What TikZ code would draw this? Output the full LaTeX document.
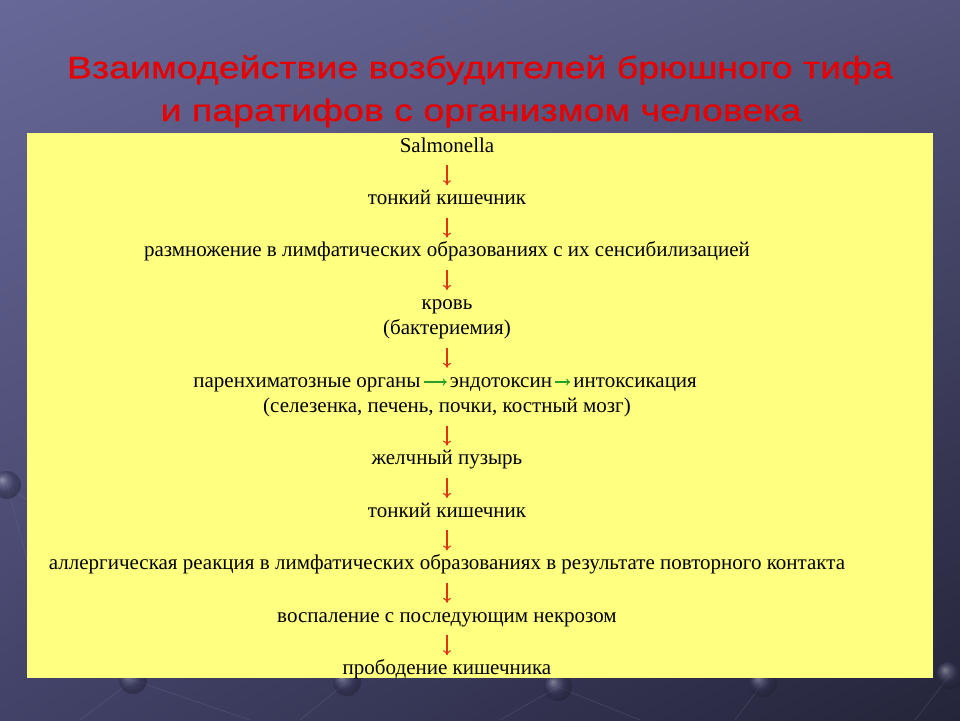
\documentclass[tikz,border=0pt]{standalone}
\usepackage{fontspec}
\setmainfont{Liberation Serif}
\newfontfamily\titlefont[FakeBold=0.6]{Liberation Sans}
\usetikzlibrary{arrows.meta,positioning,shadings}
\definecolor{slidetl}{RGB}{104,104,152}
\definecolor{slidetr}{RGB}{84,84,124}
\definecolor{slidebl}{RGB}{66,66,104}
\definecolor{slidebr}{RGB}{36,36,58}
\definecolor{boxyellow}{RGB}{255,255,128}
\definecolor{titlered}{RGB}{230,0,0}
\definecolor{downred}{RGB}{222,52,20}
\definecolor{sidegreen}{RGB}{40,160,40}
\definecolor{ballblue}{RGB}{70,70,112}

\begin{document}
\begin{tikzpicture}[x=1pt,y=-1pt,node distance=32pt,
 txt/.style={inner sep=0pt,text height=15pt,text depth=5pt,font=\fontsize{21}{25}\selectfont},
 head/.style={inner sep=0pt,text=titlered,font=\titlefont\fontsize{31}{36}\selectfont},
 down/.style={draw=downred,line width=1.1pt,-{To[length=5pt,width=8pt]},shorten <=8pt,shorten >=4pt},
 side/.style={draw=sidegreen,line width=1.1pt,-{To[length=4pt,width=7pt]},shorten <=3pt,shorten >=3pt},
 ball/.style={ball color=ballblue,opacity=0.45},
 wire/.style={draw=ballblue!70!white,opacity=0.3,line width=0.6pt}]
 \useasboundingbox (0,0) rectangle (960,720);
 \shade[upper left=slidetl,upper right=slidetr,lower left=slidebl,lower right=slidebr] (0,0) rectangle (960,720);

 \draw[wire] (7,485) -- (27,500) (7,485) -- (27,560) (133,680) -- (80,720) (133,680) -- (250,720)
 (347,682) -- (300,720) (558,687) -- (500,720) (558,687) -- (640,720)
 (763,683) -- (735,720) (950,675) -- (915,720);
 \foreach \bx/\by in {7/485,133/680,347/682,558/687,763/683,950/675}
 \shade[ball] (\bx,\by) circle (14pt);

 \fill[boxyellow] (27,133) rectangle (933,678);

 \node[head] (title1) at (480,70) {\scalebox{1.21}[1]{Взаимодействие возбудителей брюшного тифа}};
 \node[head] (title2) at (481,113) {\scalebox{1.21}[1]{и паратифов с организмом человека}};

 \node[txt] (salm) at (447,147) {Salmonella};
 \node[txt] (tonk) [below=of salm] {тонкий кишечник};
 \node[txt] (razm) [below=of tonk] {размножение в лимфатических образованиях с их сенсибилизацией};
 \node[txt] (krov) [below=of razm] {кровь};
 \node[txt] (bakt) [below=5pt of krov] {(бактериемия)};
 \node[txt] (endo) [below=of bakt,xshift=54pt] {эндотоксин};
 \node[txt] (paren) [left=29pt of endo] {паренхиматозные органы};
 \node[txt] (intox) [right=21pt of endo] {интоксикация};
 \node[txt] (sel) [below=5pt of endo,xshift=-54pt] {(селезенка, печень, почки, костный мозг)};
 \node[txt] (zhel) [below=of sel] {желчный пузырь};
 \node[txt] (tonkb) [below=of zhel] {тонкий кишечник};
 \node[txt] (allerg) [below=of tonkb] {аллергическая реакция в лимфатических образованиях в результате повторного контакта};
 \node[txt] (vosp) [below=of allerg] {воспаление с последующим некрозом};
 \node[txt] (probod) [below=of vosp] {прободение кишечника};

 \draw[down] (salm.south) -- (tonk.north);
 \draw[down] (tonk.south) -- (razm.north);
 \draw[down] (razm.south) -- (krov.north);
 \draw[down] (bakt.south) -- (bakt.south |- endo.north);
 \draw[down] (sel.south) -- (zhel.north);
 \draw[down] (zhel.south) -- (tonkb.north);
 \draw[down] (tonkb.south) -- (allerg.north);
 \draw[down] (allerg.south) -- (vosp.north);
 \draw[down] (vosp.south) -- (probod.north);
 \draw[side] (paren) -- (endo);
 \draw[side] (endo) -- (intox);
\end{tikzpicture}
\end{document}
